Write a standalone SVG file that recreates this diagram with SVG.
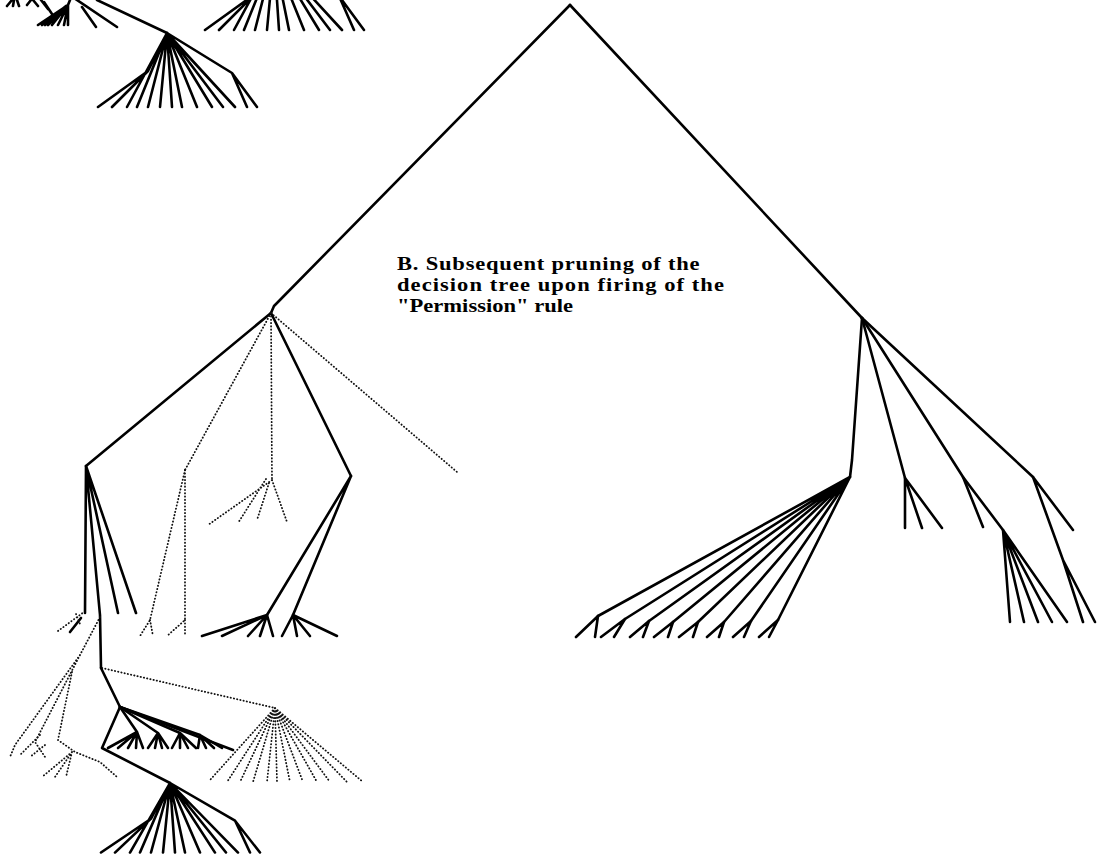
<svg xmlns="http://www.w3.org/2000/svg" xmlns:xlink="http://www.w3.org/1999/xlink" width="1098" height="855" viewBox="0 0 1098 855">
<style>
.s{fill:none;stroke:#000;stroke-width:2.6;stroke-linecap:round;stroke-linejoin:round}
.d{fill:none;stroke:#111;stroke-width:1.8;stroke-dasharray:0.3 3;stroke-linecap:round}
.lbl{font-family:"Liberation Serif","Times New Roman",serif;font-weight:bold;font-size:18.5px;fill:#000}
</style>
<defs>
<g id="fan14">
<path class="s" d="M0,0 L-19,38 L-69,74 M-19,38 L-55,74 M0,0 L-40,74 M0,0 L-30,74 M0,0 L-19,74 M0,0 L-7,74 M0,0 L5,74 M0,0 L15,74 M0,0 L30,74 M0,0 L45,74 M0,0 L56,74 M0,0 L68,74 M0,0 L65,40 L80,74 M65,40 L90,74"/>
</g>
</defs>
<rect width="1098" height="855" fill="#fff"/>

<g id="connectors">
<path class="s" d="M570,5 L277,303 L274,306 L271,313"/>
<path class="s" d="M570,5 L862,318"/>
<path class="s" d="M271,313 L86,466"/>
<path class="s" d="M271,313 L351,476"/>
<path class="d" d="M271,313 L457,472"/>
<path class="d" d="M271,313 L272,480"/>
<path class="d" d="M271,313 L185,470"/>
<path class="s" d="M862,318 L852,460 L850,477"/>
<path class="s" d="M862,318 L905,478"/>
<path class="s" d="M862,318 L963,477 L1003,530"/>
<path class="s" d="M862,318 L1033,477"/>
</g>

<g id="node-top-left">
<path class="s" d="M7,6 L12,0 M13,6 L14,0 M19,6 L17,0 M27,5 L31,0 M38,6 L33,0 M48,9 L41,0 M52,14 L44,2"/>
<path class="s" d="M70,0 L68,5 L38,25 M68,5 L45,25 M68,5 L52,25 M68,5 L58,25 M68,5 L64,25 M68,5 L68,25 M66,6 L42,25 M67,6 L48,25"/>
<path class="s" d="M74,-2 L117,27 M82,7 L96,27"/>
<path class="s" d="M97,0 L167,33"/>
</g>

<g id="node-top-tree">
<use xlink:href="#fan14" transform="translate(167,33)"/>
</g>

<g id="node-top-middle">
<use xlink:href="#fan14" transform="translate(274,-44)"/>
</g>

<g id="node-right-fan">
<path class="s" d="M850,477 L598,616 M850,477 L625,619 M850,477 L649,621 M850,477 L673,622 M850,477 L698,622 M850,477 L724,622 M850,477 L751,621 M850,477 L778,620"/>
<path class="s" d="M598,616 L576,637 M598,616 L595,637 M625,619 L601,637 M625,619 L614,637 M649,621 L630,637 M649,621 L643,637 M673,622 L654,637 M673,622 L668,637 M698,622 L679,637 M698,622 L693,637 M724,622 L707,637 M724,622 L719,637 M751,621 L733,637 M751,621 L744,637 M778,620 L759,637 M778,620 L769,637"/>
</g>

<g id="node-right-small">
<path class="s" d="M905,478 L905,528 M905,478 L922,528 M905,478 L942,528"/>
</g>

<g id="node-right-mid">
<path class="s" d="M963,477 L983,527"/>
<path class="s" d="M1003,530 L1010,622 M1003,530 L1024,622 M1003,530 L1038,622 M1003,530 L1052,622 M1003,530 L1067,622"/>
</g>

<g id="node-right-far">
<path class="s" d="M1033,477 L1073,530 M1033,477 L1063,560 L1083,622 M1063,560 L1095,622"/>
</g>

<g id="node-L">
<path class="s" d="M86,466 L85,613 M86,466 L100,615 L101,668 M86,466 L118,613 M86,466 L136,613"/>
</g>

<g id="node-B2">
<path class="s" d="M351,476 L267,615 M351,476 L293,615"/>
<path class="s" d="M267,615 L202,636 M267,615 L222,636 M267,615 L248,636 M267,615 L260,636 M267,615 L273,636"/>
<path class="s" d="M293,615 L282,636 M293,615 L297,636 M293,615 L310,636 M293,615 L337,636"/>
</g>

<g id="node-pruned-A">
<path class="d" d="M185,470 L150,620 L140,636 M150,620 L153,636"/>
<path class="d" d="M185,470 L185,620 L167,636 M185,620 L185,636"/>
<path class="d" d="M272,480 L208,525 M266,479 L238,523 M269,483 L257,520 M272,480 L287,522"/>
</g>

<g id="node-pruned-left">
<path class="s" d="M70,632 L81,618"/>
<path class="d" d="M58,631 L84,612 M76,614 L80,624"/>
<path class="d" d="M100,617 L80,655 L15,745 L10,757 M80,655 L35,742 L45,757 M72,672 L58,740 L75,752 L100,762 L117,777 M72,752 L42,777 M72,752 L55,777 M72,752 L66,777"/>
<path class="d" d="M40,735 L20,755 M45,745 L30,757"/>
</g>

<g id="node-pruned-right">
<path class="d" d="M102,668 L275,708"/>
<path class="d" d="M275,708 L210,780 M275,708 L227,782 M275,708 L240,782 M275,708 L253,782 M275,708 L267,782 M275,708 L277,782 M275,708 L290,782 M275,708 L303,782 M275,708 L317,782 M275,708 L330,782 M275,708 L347,782 M275,708 L363,782"/>
</g>

<g id="node-C">
<path class="s" d="M101,668 L120,707"/>
<path class="s" d="M120,707 L233,750 M120,707 L102,748 L170,783"/>
<path class="s" d="M120,707 L137,732 L108,748 M137,732 L118,748 M137,732 L128,748 M137,732 L136,748 M137,732 L143,748"/>
<path class="s" d="M120,707 L158,733 L148,748 M158,733 L155,748 M158,733 L162,748 M158,733 L168,748"/>
<path class="s" d="M120,707 L180,733 L172,748 M180,733 L180,748 M180,733 L188,748 M180,733 L196,748"/>
<path class="s" d="M120,707 L200,735 L198,748 M200,735 L206,748 M200,735 L214,748 M200,735 L222,748"/>
</g>

<g id="node-bottom-tree">
<use xlink:href="#fan14" transform="translate(170,783) scale(1,0.94)"/>
</g>

<g id="label" transform="translate(397,0) scale(1.22,1)">
<text class="lbl"><tspan x="0" y="270" textLength="248" lengthAdjust="spacing">B. Subsequent pruning of the</tspan><tspan x="0" y="291" textLength="268" lengthAdjust="spacing">decision tree upon firing of the</tspan><tspan x="0" y="312">"Permission" rule</tspan></text>
</g>
</svg>
